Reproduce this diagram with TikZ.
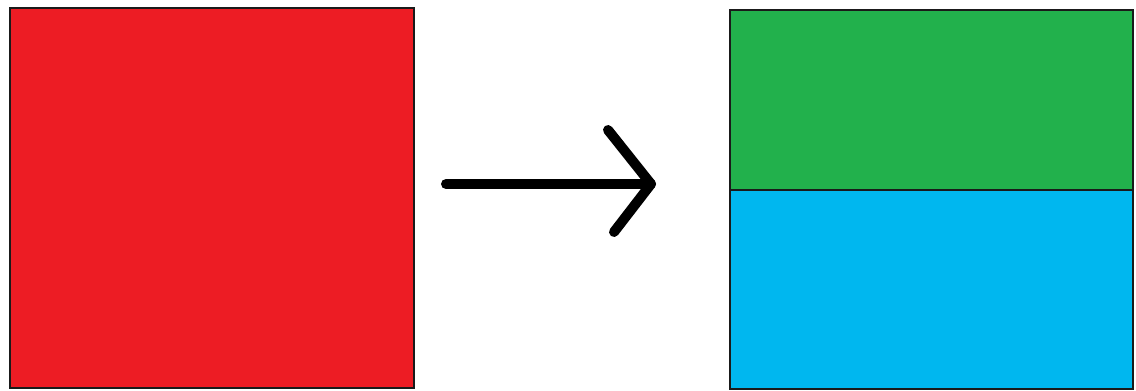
\documentclass[tikz,border=0pt]{standalone}
\definecolor{pred}{HTML}{ED1C24}
\definecolor{pgreen}{HTML}{22B14C}
\definecolor{pblue}{HTML}{00B7EF}
\definecolor{edge}{HTML}{1A1A1A}
\tikzset{
  box/.style={draw=edge, line width=1.6pt, inner sep=0pt, outer sep=0pt, anchor=north west},
  bigarrow/.style={line width=10pt, line cap=round, line join=round, draw=black}
}
\begin{document}
\begin{tikzpicture}[x=1pt,y=-1pt]
\useasboundingbox (0,0) rectangle (1136,391);
\fill[white] (0,0) rectangle (1136,391);
\node[box, fill=pred, minimum width=404pt, minimum height=380pt] (red) at (10,8) {};
\node[box, fill=pgreen, minimum width=403pt, minimum height=180pt] (green) at (730,10) {};
\node[box, fill=pblue, minimum width=403pt, minimum height=199pt] (blue) at (730,190) {};
\coordinate (a) at (446,184);
\coordinate (tip) at (651,184);
\coordinate (hu) at (608,130);
\coordinate (hl) at (614,232);
\draw[bigarrow] (a) -- (tip);
\draw[bigarrow] (hu) -- (tip) -- (hl);
\end{tikzpicture}
\end{document}
